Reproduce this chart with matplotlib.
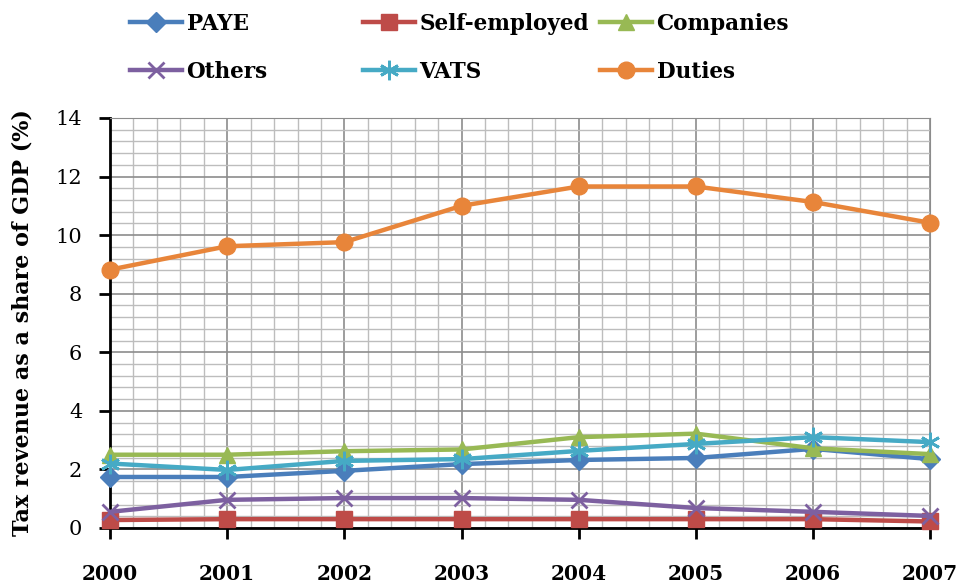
import matplotlib
matplotlib.use("Agg")
import matplotlib.pyplot as plt
from matplotlib.ticker import MultipleLocator

years = [2000, 2001, 2002, 2003, 2004, 2005, 2006, 2007]
paye = [1.74, 1.74, 1.95, 2.18, 2.32, 2.39, 2.70, 2.35]
self_employed = [0.27, 0.30, 0.30, 0.30, 0.30, 0.30, 0.30, 0.22]
companies = [2.50, 2.50, 2.62, 2.68, 3.10, 3.22, 2.72, 2.52]
others = [0.55, 0.96, 1.02, 1.02, 0.96, 0.68, 0.55, 0.41]
vats = [2.20, 1.98, 2.29, 2.35, 2.63, 2.87, 3.10, 2.93]
duties = [8.82, 9.62, 9.76, 11.00, 11.66, 11.66, 11.13, 10.42]

plt.rcParams['font.family'] = ['DejaVu Serif']

fig = plt.figure(figsize=(9.57, 5.84), dpi=100)
ax = fig.add_axes([0.115, 0.096, 0.857, 0.702])

series = [
    ("PAYE", paye, "#4A7EBB", "D", 10),
    ("Self-employed", self_employed, "#BE4B48", "s", 11),
    ("Companies", companies, "#98B954", "^", 11),
    ("Others", others, "#7D60A0", "x", 12),
    ("VATS", vats, "#46AAC5", (6, 2, 0), 14),
    ("Duties", duties, "#E8853A", "o", 12),
]
handles = {}
for name, vals, col, mk, ms in series:
    h, = ax.plot(years, vals, color=col, lw=3.2, marker=mk, markersize=ms,
                 markeredgewidth=2 if mk in ("x", (6, 2, 0)) else 1,
                 markeredgecolor=col, markerfacecolor=col, label=name,
                 clip_on=False, zorder=3)
    handles[name] = h

ax.set_xlim(2000, 2007)
ax.set_ylim(0, 14)
ax.yaxis.set_major_locator(MultipleLocator(2))
ax.yaxis.set_minor_locator(MultipleLocator(0.4))
ax.xaxis.set_minor_locator(MultipleLocator(0.2))
ax.grid(which='major', color='#8C8C8C', lw=1.2, zorder=0)
ax.grid(which='minor', color='#BDBDBD', lw=1.0, zorder=0)
ax.set_axisbelow(True)
ax.tick_params(which='minor', length=0)
ax.tick_params(which='major', direction='out', length=8, width=2, color='black')
ax.tick_params(axis='y', labelsize=15, pad=12)
ax.tick_params(axis='x', labelsize=14.5, pad=18)
ax.set_xticks(years)
ax.set_xticklabels([str(y) for y in years], fontweight='bold')

ax.spines['left'].set_linewidth(2)
ax.spines['bottom'].set_linewidth(2)
ax.spines['top'].set_color('#8C8C8C')
ax.spines['right'].set_color('#8C8C8C')

ax.set_ylabel("Tax revenue as a share of GDP (%)", fontsize=16, fontweight='bold')
ax.yaxis.set_label_coords(-0.093, 0.5)

columns = [["PAYE", "Others"], ["Self-employed", "VATS"], ["Companies", "Duties"]]
col_x = [130 / 957, 363 / 957, 600 / 957]
for names, x0 in zip(columns, col_x):
    leg = fig.legend([handles[n] for n in names], names, loc='upper left',
                     bbox_to_anchor=(x0, 0.978), ncol=1, frameon=False,
                     prop={'weight': 'bold', 'size': 15.5}, handlelength=2.4,
                     borderpad=0, borderaxespad=0, labelspacing=1.2,
                     handletextpad=0.23)

fig.savefig("out.png", dpi=100)
